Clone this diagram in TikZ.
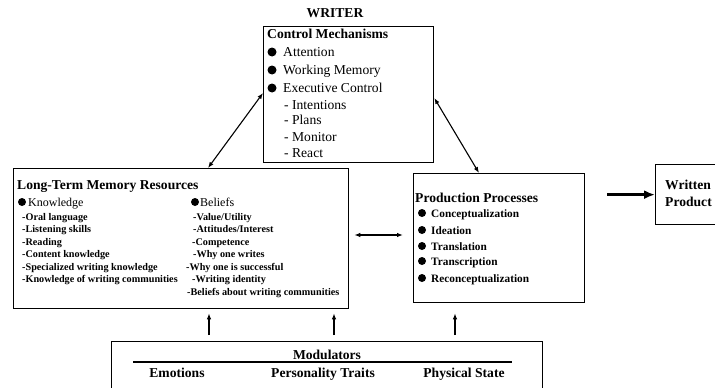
\documentclass[tikz,border=0pt]{standalone}
\usepackage{fontspec}
\setmainfont{Liberation Serif}
\usetikzlibrary{positioning,arrows.meta}

\newcommand{\headfont}{\fontsize{13.6}{16}\selectfont\bfseries}
\newcommand{\itemfont}{\fontsize{13.6}{16}\selectfont}
\newcommand{\kindfont}{\fontsize{12}{14}\selectfont}
\newcommand{\subfont}{\fontsize{10.2}{12}\selectfont\bfseries}
\newcommand{\procfont}{\fontsize{11.3}{14}\selectfont\bfseries}

\begin{document}
\begin{tikzpicture}[x=1pt,y=-1pt,
  box/.style={draw, line width=1.3pt, anchor=north west, inner sep=0pt},
  txt/.style={anchor=base west, inner sep=0pt},
  ctxt/.style={anchor=base, inner sep=0pt},
  dot/.style={circle, fill, inner sep=0pt, minimum size=#1},
  arr/.style={line width=1.1pt, -{Latex[length=6pt,width=4.5pt]}},
  biarr/.style={line width=1.1pt, {Latex[length=6pt,width=4.5pt]}-{Latex[length=6pt,width=4.5pt]}}]
  \useasboundingbox (0,0) rectangle (715,388);

  % boxes
  \node[box, minimum width=170pt, minimum height=136pt] (ctrl) at (263,26) {};
  \node[box, minimum width=335pt, minimum height=140pt] (ltm)  at (13,168) {};
  \node[box, minimum width=171pt, minimum height=129pt] (prod) at (413,173) {};
  \node[box, minimum width=64pt,  minimum height=60pt]  (wp)   at (655,164) {};
  \node[box, minimum width=431pt, minimum height=52pt]  (mod)  at (111,341) {};

  % control mechanisms
  \node[ctxt, font=\headfont] (writer) at (335,17) {WRITER};
  \node[txt, font=\headfont] (cmt) at (267,38) {Control Mechanisms};
  \node[dot=9pt] (cb1) at (272,52) {};
  \node[txt, font=\itemfont] (ci1) at (283,56) {Attention};
  \node[dot=9pt] (cb2) at (272,70) {};
  \node[txt, font=\itemfont] (ci2) at (283,74) {Working Memory};
  \node[dot=9pt] (cb3) at (272,88) {};
  \node[txt, font=\itemfont] (ci3) at (283,92) {Executive Control};
  \node[txt, font=\itemfont] (cs1) at (284,109) {- Intentions};
  \node[txt, font=\itemfont] (cs2) at (284,124) {- Plans};
  \node[txt, font=\itemfont] (cs3) at (284,141) {- Monitor};
  \node[txt, font=\itemfont] (cs4) at (284,157) {- React};

  % long-term memory
  \node[txt, font=\headfont] (ltt) at (17,189) {Long-Term Memory Resources};
  \node[dot=8pt] (kb) at (22,202) {};
  \node[txt, font=\kindfont] (kh) at (28,206) {Knowledge};
  \node[txt, font=\subfont] (ks1) at (22,220) {-Oral language};
  \node[txt, font=\subfont] (ks2) at (22,232.5) {-Listening skills};
  \node[txt, font=\subfont] (ks3) at (22,245) {-Reading};
  \node[txt, font=\subfont] (ks4) at (22,257.5) {-Content knowledge};
  \node[txt, font=\subfont] (ks5) at (22,270) {-Specialized writing knowledge};
  \node[txt, font=\subfont] (ks6) at (22,282.5) {-Knowledge of writing communities};
  \node[dot=8pt] (bb) at (195,202) {};
  \node[txt, font=\kindfont] (bh) at (200,206) {Beliefs};
  \node[txt, font=\subfont] (bs1) at (193,220) {-Value/Utility};
  \node[txt, font=\subfont] (bs2) at (193,232.5) {-Attitudes/Interest};
  \node[txt, font=\subfont] (bs3) at (192,245) {-Competence};
  \node[txt, font=\subfont] (bs4) at (193,257.5) {-Why one writes};
  \node[txt, font=\subfont] (bs5) at (186,270) {-Why one is successful};
  \node[txt, font=\subfont] (bs6) at (192,282.5) {-Writing identity};
  \node[txt, font=\subfont] (bs7) at (187,295) {-Beliefs about writing communities};

  % production processes
  \node[txt, font=\headfont] (ppt) at (415,202) {Production Processes};
  \node[dot=8pt] (pb1) at (422,213) {};
  \node[txt, font=\procfont] (pi1) at (431,217) {Conceptualization};
  \node[dot=8pt] (pb2) at (422,230) {};
  \node[txt, font=\procfont] (pi2) at (431,234) {Ideation};
  \node[dot=8pt] (pb3) at (422,246) {};
  \node[txt, font=\procfont] (pi3) at (431,250) {Translation};
  \node[dot=8pt] (pb4) at (422,261) {};
  \node[txt, font=\procfont] (pi4) at (431,265) {Transcription};
  \node[dot=8pt] (pb5) at (422,278) {};
  \node[txt, font=\procfont] (pi5) at (431,282) {Reconceptualization};

  % written product
  \node[txt, font=\headfont] (wp1) at (665,189) {Written};
  \node[txt, font=\headfont] (wp2) at (665,206) {Product};

  % modulators
  \node[ctxt, font=\headfont] (modt) at (327,359) {Modulators};
  \draw[line width=1.2pt] (133,362) -- (512,362);
  \node[ctxt, font=\headfont] (mo1) at (177,377) {Emotions};
  \node[ctxt, font=\headfont] (mo2) at (323,377) {Personality Traits};
  \node[ctxt, font=\headfont] (mo3) at (464,377) {Physical State};

  % connectors
  \coordinate (ul) at (208,0);
  \coordinate (cl) at (0,93);
  \coordinate (ur) at (479,0);
  \coordinate (cr) at (0,98);
  \coordinate (mid) at (0,235);
  \coordinate (m1) at (209,0);
  \coordinate (m2) at (334,0);
  \coordinate (m3) at (455,0);
  \draw[biarr] (ul |- ltm.north) -- (ctrl.west |- cl);
  \draw[biarr] (ctrl.east |- cr) -- (ur |- prod.north);
  \draw[biarr, shorten <=5pt, shorten >=10pt] (ltm.east |- mid) -- (prod.west |- mid);
  \draw[line width=3pt, -{Latex[length=11pt,width=9pt]}, shorten <=22pt] (prod.east |- wp.west) -- (wp.west);
  \draw[arr, shorten <=6pt, shorten >=4pt] (m1 |- mod.north) -- (m1 |- ltm.south);
  \draw[arr, shorten <=6pt, shorten >=4pt] (m2 |- mod.north) -- (m2 |- ltm.south);
  \draw[arr, shorten <=6pt, shorten >=10pt] (m3 |- mod.north) -- (m3 |- prod.south);
\end{tikzpicture}
\end{document}
